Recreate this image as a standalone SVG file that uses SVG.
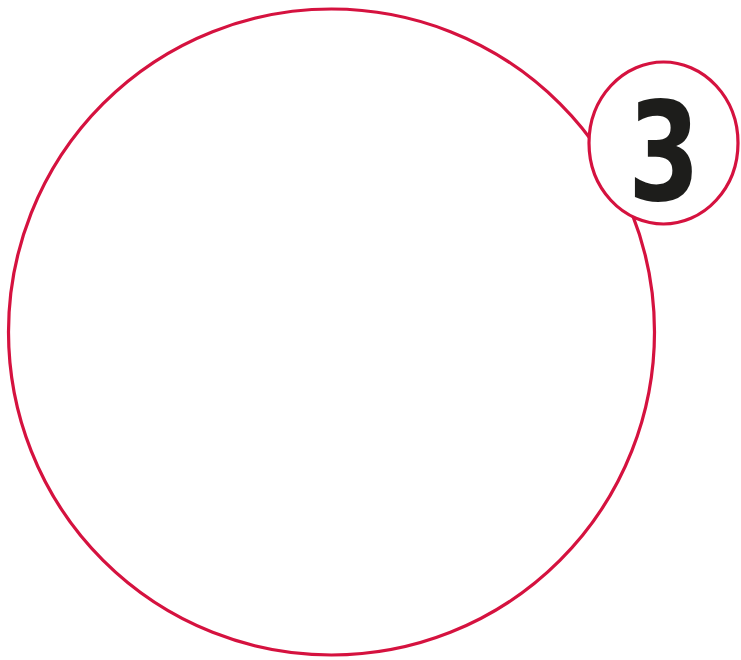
<svg xmlns="http://www.w3.org/2000/svg" width="741" height="660" viewBox="0 0 741 660">
<style>
.ring{fill:#fff;stroke:#d5123f;stroke-width:3.2}
.num{font-family:"DejaVu Sans",sans-serif;font-weight:bold;font-size:140px;fill:#1d1d1b;text-anchor:middle}
</style>
<rect width="741" height="660" fill="#fff"/>
<g id="big-circle"><circle class="ring" cx="331.5" cy="332" r="323"/></g>
<g id="badge">
<ellipse class="ring" cx="663.5" cy="143" rx="74.5" ry="81"/>
<text class="num" transform="translate(664,200) scale(0.74,0.98)">3</text>
</g>
</svg>
